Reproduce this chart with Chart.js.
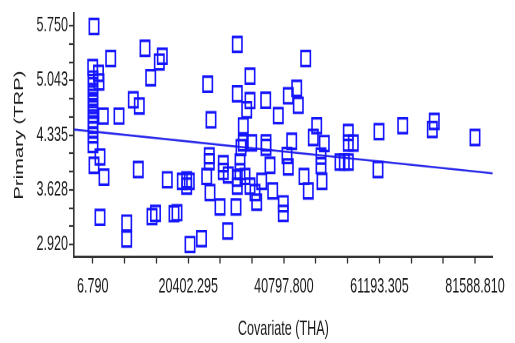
<!DOCTYPE html>
<html>
<head>
<meta charset="utf-8">
<script src="https://cdn.jsdelivr.net/npm/chart.js@4.4.1/dist/chart.umd.min.js"></script>
<style>
  html, body { margin: 0; padding: 0; background: #fff; }
  canvas { display: block; }
</style>
</head>
<body>
<!-- the original picture is stretched vertically, so the canvas is drawn short and shown tall -->
<canvas id="chart" width="515" height="214" style="width:515px;height:343px"></canvas>
<script>
// Scatter data: covariate (THA) against primary (TRP)
const covariate = [
  284, 7, 1244, 1351, 71, 71, 71, 71, 71, 71,
  71, 71, 71, 71, 71, 71, 1565, 284, 2418, 1565,
  3848, 2269, 5619, 11168, 14859, 14219, 12384, 8671, 9951, 9738,
  7262, 7262, 12661, 13408, 15926, 17356, 17996, 19127, 20067, 20621,
  20067, 20771, 23225, 24335, 24890, 24890, 25039, 24548, 25252, 27172,
  27877, 27877, 28944, 28816, 30587, 30864, 30864, 30864, 30864, 31441,
  31441, 31654, 32145, 32145, 32508, 32871, 33575, 33575, 33575, 33938,
  34641, 35004, 36072, 36925, 36989, 36989, 37842, 38419, 39614, 40680,
  40680, 41470, 41748, 41748, 43541, 43882, 42474, 45461, 45098, 46015,
  47809, 47083, 49430, 48726, 48726, 48939, 52780, 53698, 54552, 54552,
  54552, 55619, 61103, 60890, 66161, 72904, 72478, 81589
];
const primary = [
  5.740, 5.209, 5.134, 5.022, 5.060, 4.973, 4.898, 4.823, 4.749, 4.674,
  4.599, 4.525, 4.463, 4.400, 4.338, 4.214, 4.052, 3.944, 3.791, 3.272,
  5.325, 4.581, 4.581, 5.458, 5.355, 5.280, 5.076, 4.792, 4.711, 3.890,
  3.197, 2.991, 3.281, 3.322, 3.757, 3.318, 3.331, 3.737, 3.757, 3.737,
  3.675, 2.920, 2.995, 3.800, 4.068, 3.990, 3.592, 4.994, 4.533, 3.405,
  3.965, 3.865, 3.819, 3.094, 3.405, 5.508, 4.869, 3.778, 3.675, 3.986,
  3.862, 4.173, 4.454, 4.235, 3.800, 4.662, 5.097, 4.782, 3.675, 4.235,
  3.592, 3.467, 3.737, 4.786, 4.235, 4.176, 3.944, 3.613, 4.587, 3.446,
  3.322, 4.071, 3.924, 4.844, 4.939, 4.720, 4.255, 5.325, 3.800, 3.613,
  4.456, 4.305, 4.226, 4.064, 3.940, 3.737, 3.986, 3.986, 3.986, 4.369,
  4.232, 4.232, 4.379, 3.890, 4.456, 4.512, 4.407, 4.305
];

// Fitted regression line, end points
const fitX = [-3984, 85366];
const fitY = [4.407, 3.841];

// Axis ranges and labelled ticks
const xMin = -3984, xMax = 85366;
const yMin = 2.758, yMax = 5.912;
const xTickValues = [6.79, 20402.295, 40797.8, 61193.305, 81588.81];
const xTickLabels = ['6.790', '20402.295', '40797.800', '61193.305', '81588.810'];
const yTickValues = [2.920, 3.628, 4.335, 5.043, 5.750];
const yTickLabels = ['2.920', '3.628', '4.335', '5.043', '5.750'];

const fontFamily = "'Liberation Sans', Arial, sans-serif";
const textColor = '#1a1a1a';
const axisColor = '#333333';

// labelled ticks plus two unlabelled ones in each gap
function buildTicks(values, labels) {
  const ticks = [];
  for (let i = 0; i < values.length; i++) {
    ticks.push({ value: values[i], lbl: labels[i] });
    if (i < values.length - 1) {
      const step = (values[i + 1] - values[i]) / 3;
      ticks.push({ value: values[i] + step, lbl: '' });
      ticks.push({ value: values[i] + 2 * step, lbl: '' });
    }
  }
  return ticks;
}

const points = covariate.map((x, i) => ({ x: x, y: primary[i] }));
const fitLine = fitX.map((x, i) => ({ x: x, y: fitY[i] }));

new Chart(document.getElementById('chart'), {
  type: 'scatter',
  data: {
    datasets: [
      {
        data: points,
        pointStyle: 'rect',
        pointRadius: 6.6,
        pointHoverRadius: 6.6,
        borderColor: 'rgb(20, 20, 255)',
        backgroundColor: 'rgba(0, 0, 0, 0)',
        borderWidth: 1.6
      },
      {
        type: 'line',
        data: fitLine,
        showLine: true,
        pointRadius: 0,
        borderColor: 'rgb(40, 40, 235)',
        borderWidth: 1.3,
        fill: false
      }
    ]
  },
  options: {
    responsive: false,
    devicePixelRatio: 2,
    animation: false,
    layout: { padding: { top: 1.9, right: 22.3, left: 0, bottom: 0 } },
    plugins: {
      legend: { display: false },
      tooltip: { enabled: false }
    },
    scales: {
      x: {
        type: 'linear',
        min: xMin,
        max: xMax,
        afterBuildTicks: function(scale) {
          scale.ticks = buildTicks(xTickValues, xTickLabels);
        },
        afterFit: function(scale) {
          scale.height = 53.65;
          scale.paddingLeft = 0;
          scale.paddingRight = 0;
        },
        ticks: {
          autoSkip: false,
          maxRotation: 0,
          padding: 7.3,
          color: textColor,
          font: { family: fontFamily, size: 12.6 },
          callback: function(value, index, ticks) {
            return ticks[index].lbl;
          }
        },
        grid: {
          drawOnChartArea: false,
          tickLength: 4,
          tickColor: axisColor,
          tickWidth: 1.3
        },
        border: { color: axisColor, width: 1.5 },
        title: {
          display: true,
          text: 'Covariate (THA)',
          color: textColor,
          font: { family: fontFamily, size: 12.6 },
          padding: { top: 0, bottom: 1.1 }
        }
      },
      y: {
        type: 'linear',
        min: yMin,
        max: yMax,
        afterBuildTicks: function(scale) {
          scale.ticks = buildTicks(yTickValues, yTickLabels);
        },
        afterFit: function(scale) {
          scale.width = 74;
          scale.paddingTop = 0;
          scale.paddingBottom = 0;
        },
        ticks: {
          autoSkip: false,
          padding: 1,
          color: textColor,
          font: { family: fontFamily, size: 12.6 },
          callback: function(value, index, ticks) {
            return ticks[index].lbl;
          }
        },
        grid: {
          drawOnChartArea: false,
          tickLength: 5,
          tickColor: axisColor,
          tickWidth: 1.1
        },
        border: { color: axisColor, width: 1.6 },
        title: {
          display: true,
          text: 'Primary (TRP)',
          color: textColor,
          font: { family: fontFamily, size: 12.6 },
          padding: { top: 12, bottom: 0 }
        }
      }
    }
  }
});
</script>
</body>
</html>
